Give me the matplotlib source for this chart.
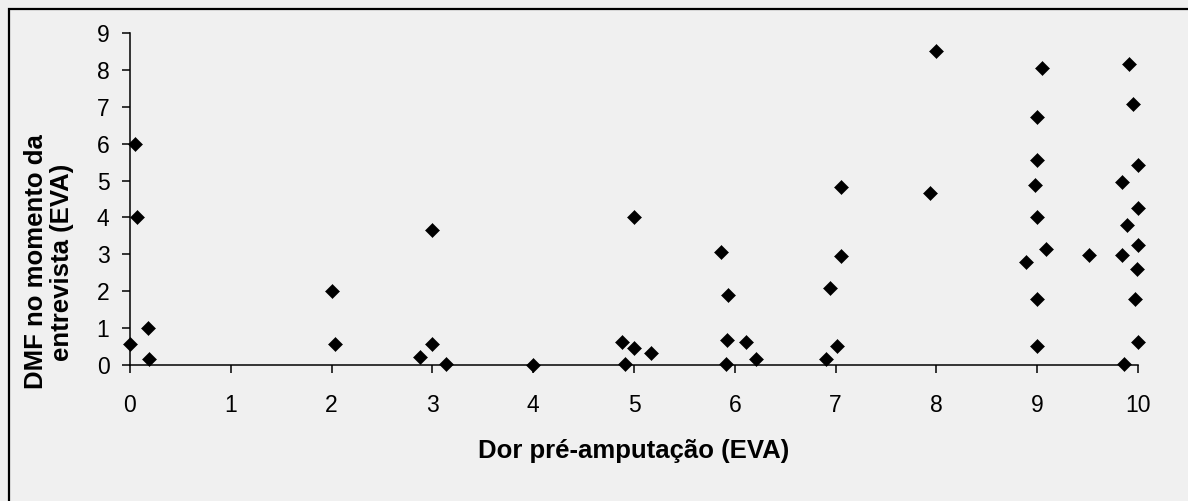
import matplotlib
matplotlib.use("Agg")
import matplotlib.pyplot as plt
from matplotlib.patches import Rectangle

plt.rcParams['font.family'] = ['Liberation Sans', 'DejaVu Sans']

# Pre-amputation pain (VAS) vs phantom limb pain at interview (VAS)
dor_pre = [0.0, 0.05, 0.07, 0.18, 0.19,
           2.0, 2.03, 2.88, 3.0, 3.0, 3.13,
           4.0, 4.88, 4.91, 5.0, 5.0, 5.17,
           5.86, 5.91, 5.92, 5.93, 6.11, 6.21,
           6.9, 6.94, 7.01, 7.05, 7.05,
           7.94, 8.0,
           8.89, 9.0, 9.0, 9.0, 8.98, 9.0, 9.0, 9.05, 9.09,
           9.51,
           9.84, 9.84, 9.86, 9.89, 9.91, 9.95, 9.97, 9.99, 10.0, 10.0, 10.0, 10.0]
dmf = [0.58, 6.0, 4.0, 1.0, 0.15,
       2.0, 0.57, 0.21, 3.65, 0.56, 0.02,
       0.0, 0.62, 0.02, 0.47, 4.0, 0.32,
       3.07, 0.02, 0.68, 1.89, 0.62, 0.16,
       0.16, 2.09, 0.52, 2.95, 4.82,
       4.66, 8.5,
       2.79, 0.52, 1.78, 4.0, 4.87, 5.57, 6.73, 8.04, 3.14,
       2.99,
       4.96, 2.99, 0.02, 3.80, 8.15, 7.08, 1.78, 2.59, 0.62, 3.24, 4.25, 5.41]

x_ticks = list(range(0, 11))
y_ticks = list(range(0, 10))
x_title = "Dor pré-amputação (EVA)"
y_title = "DMF no momento da\nentrevista (EVA)"

W, H = 1188, 501
bg = "#f0f0f0"
fig = plt.figure(figsize=(W / 100, H / 100), dpi=100, facecolor=bg)

# chart-area frame
fig.patches.append(Rectangle((9 / W, -0.2), 1.2, 1.2 - 9 / H,
                             transform=fig.transFigure, fill=False,
                             edgecolor="black", linewidth=1.6))

ax = fig.add_axes([130 / W, 1 - 365 / H, (1138 - 130) / W, (365 - 33) / H])
ax.set_facecolor(bg)
ax.plot(dor_pre, dmf, linestyle="none", marker="D", markersize=7.0,
        markerfacecolor="black", markeredgecolor="black", markeredgewidth=0.4,
        clip_on=False, zorder=5)

ax.set_xlim(0, 10)
ax.set_ylim(0, 9)
ax.set_xticks(x_ticks)
ax.set_yticks(y_ticks)
for s in ("top", "right"):
    ax.spines[s].set_visible(False)
for s in ("left", "bottom"):
    ax.spines[s].set_linewidth(1.1)
    ax.spines[s].set_color("black")
ax.tick_params(axis="x", direction="out", length=5.8, width=1.1, pad=15,
               labelsize=16.5, colors="black")
ax.tick_params(axis="y", direction="out", length=5.8, width=1.1, pad=9,
               labelsize=16.5, colors="black")

fig.text((130 + 1138) / 2 / W, 1 - 458 / H, x_title, ha="center", va="baseline",
         fontsize=18.5, fontweight="bold")
fig.text(49 / W, 1 - 262 / H, y_title, ha="center", va="center",
         rotation=90, multialignment="center", linespacing=1.15,
         fontsize=18.5, fontweight="bold")

fig.savefig("out.png", dpi=100, facecolor=bg)
